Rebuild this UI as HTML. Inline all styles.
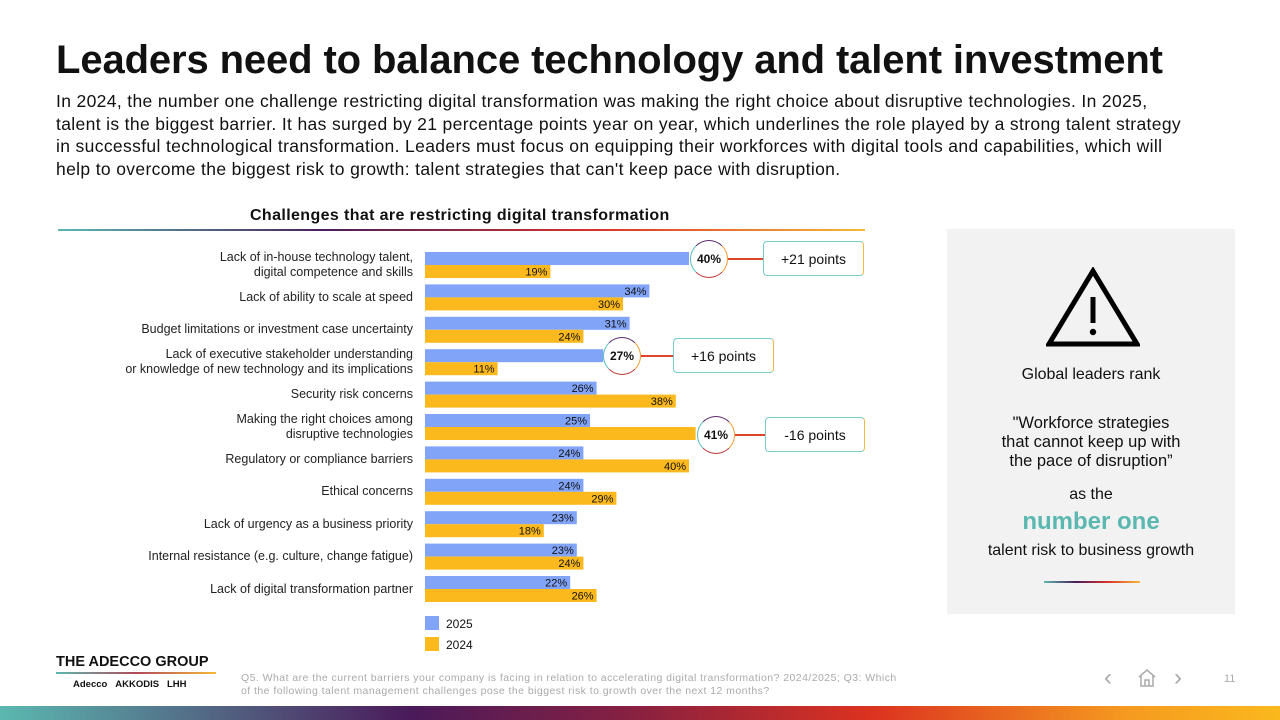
<!DOCTYPE html>
<html><head><meta charset="utf-8">
<style>
body{margin:0;width:1280px;height:720px;overflow:hidden;background:#fff;font-family:"Liberation Sans",sans-serif;position:relative;color:#111}
.abs{position:absolute}
h1{position:absolute;left:56px;top:38px;margin:0;font-size:40px;font-weight:bold;letter-spacing:-0.12px;white-space:nowrap}
.intro{left:56px;top:90px;font-size:17.5px;line-height:22.5px;white-space:nowrap;letter-spacing:0.35px}
.lab{position:absolute;right:867px;text-align:right;font-size:12.5px;line-height:15px;color:#222;white-space:nowrap}
.box{position:absolute;background:#fff;border:1.5px solid #7cc;border-radius:4px;font-size:14px;display:flex;align-items:center;justify-content:center;border-right-color:#f5b942}
.circ{position:absolute;width:36px;height:36px;border-radius:50%;background:#fff;border:1.5px solid #b33;border-left-color:#5bb;border-top-color:#5a2a6e;border-right-color:#f29a2e;font-weight:bold;font-size:12px;display:flex;align-items:center;justify-content:center}
</style></head><body>
<h1>Leaders need to balance technology and talent investment</h1>
<div class="abs intro">In 2024, the number one challenge restricting digital transformation was making the right choice about disruptive technologies. In 2025,<br>talent is the biggest barrier. It has surged by 21 percentage points year on year, which underlines the role played by a strong talent strategy<br>in successful technological transformation. Leaders must focus on equipping their workforces with digital tools and capabilities, which will<br>help to overcome the biggest risk to growth: talent strategies that can't keep pace with disruption.</div>
<div class="abs" style="left:250px;top:207px;font-size:16px;font-weight:bold;letter-spacing:0.38px;white-space:nowrap">Challenges that are restricting digital transformation</div>
<div class="abs" style="left:58px;top:229px;width:807px;height:2px;background:linear-gradient(90deg,#5bb8b0,#4a1e5a,#d8332a,#f6b83a)"></div>
<svg id="chart" class="abs" style="left:0;top:0" width="1280" height="720"></svg>
<div id="labels"></div>
<div class="abs" style="left:425px;top:616px;width:14px;height:14px;background:#82a4f8"></div>
<div class="abs" style="left:446px;top:617px;font-size:12px">2025</div>
<div class="abs" style="left:425px;top:637px;width:14px;height:14px;background:#fbb91d"></div>
<div class="abs" style="left:446px;top:638px;font-size:12px">2024</div>

<div class="circ" style="left:690px;top:240px">40%</div>
<div class="abs" style="left:728px;top:258px;width:35px;height:1.5px;background:#e0442a"></div>
<div class="box" style="left:763px;top:241px;width:99px;height:33px">+21 points</div>
<div class="circ" style="left:603px;top:337px">27%</div>
<div class="abs" style="left:641px;top:355px;width:32px;height:1.5px;background:#e0442a"></div>
<div class="box" style="left:673px;top:338px;width:99px;height:33px">+16 points</div>
<div class="circ" style="left:697px;top:416px">41%</div>
<div class="abs" style="left:735px;top:434px;width:30px;height:1.5px;background:#e0442a"></div>
<div class="box" style="left:765px;top:417px;width:98px;height:33px">-16 points</div>

<div class="abs" style="left:947px;top:229px;width:288px;height:385px;background:#f2f2f2;text-align:center">
<svg style="position:absolute;left:99px;top:38px" width="94" height="80"><path d="M47 4 L91 77 L3 77 Z" fill="none" stroke="#000" stroke-width="5" stroke-linejoin="miter"/><rect x="44.5" y="30" width="5" height="26" fill="#000"/><circle cx="47" cy="65" r="3.2" fill="#000"/></svg>
<div style="position:absolute;top:137px;width:100%;font-size:16px">Global leaders rank</div>
<div style="position:absolute;top:185px;width:100%;font-size:16.5px;line-height:19px">"Workforce strategies<br>that cannot keep up with<br>the pace of disruption”</div>
<div style="position:absolute;top:257px;width:100%;font-size:16px">as the</div>
<div style="position:absolute;top:279px;width:100%;font-size:24px;font-weight:bold;color:#5bb8b0">number one</div>
<div style="position:absolute;top:313px;width:100%;font-size:16px">talent risk to business growth</div>
<div style="position:absolute;top:352px;left:97px;width:96px;height:2px;background:linear-gradient(90deg,#5bb8b0,#4a1e5a,#d8332a,#f6b83a)"></div>
</div>

<div class="abs" style="left:56px;top:654px;font-size:14.5px;font-weight:bold">THE ADECCO GROUP</div>
<div class="abs" style="left:56px;top:672px;width:160px;height:2px;background:linear-gradient(90deg,#5bb8b0,#b04a5a,#f6b83a)"></div>
<div class="abs" style="left:73px;top:679px;font-size:9.5px;font-weight:bold">Adecco &nbsp;&nbsp;AKKODIS &nbsp;&nbsp;LHH</div>
<div class="abs" style="left:241px;top:672px;font-size:10.5px;line-height:13px;color:#aaa;white-space:nowrap;letter-spacing:0.45px">Q5. What are the current barriers your company is facing in relation to accelerating digital transformation? 2024/2025; Q3: Which<br>of the following talent management challenges pose the biggest risk to growth over the next 12 months?</div>
<div class="abs" style="left:1104px;top:664px;font-size:24px;color:#aaa">‹</div>
<svg class="abs" style="left:1137px;top:668px" width="20" height="20"><path d="M2 9 L10 2 L18 9 M4 8 V18 H16 V8 M8 18 V12 H12 V18" fill="none" stroke="#aaa" stroke-width="1.5"/></svg>
<div class="abs" style="left:1174px;top:664px;font-size:24px;color:#aaa">›</div>
<div class="abs" style="left:1224px;top:673px;font-size:11px;color:#aaa">11</div>
<div class="abs" style="left:0;top:706px;width:1280px;height:14px;background:linear-gradient(90deg,#5bb8b0 0%,#4a1a5a 32%,#8a2140 50%,#dc3220 68%,#f59a20 88%,#fbb91d 100%)"></div>

<script>
const categories=["Lack of in-house technology talent,<br>digital competence and skills","Lack of ability to scale at speed","Budget limitations or investment case uncertainty","Lack of executive stakeholder understanding<br>or knowledge of new technology and its implications","Security risk concerns","Making the right choices among<br>disruptive technologies","Regulatory or compliance barriers","Ethical concerns","Lack of urgency as a business priority","Internal resistance (e.g. culture, change fatigue)","Lack of digital transformation partner"];
const values2025=[40,34,31,27,26,25,24,24,23,23,22];
const values2024=[19,30,24,11,38,41,40,29,18,24,26];
const calloutIdx2025=[0,3];
const calloutIdx2024=[5];
const x0=425, pxPer=6.6, rowTop=252, rowStep=32.4, barH=13;
const xs=v=>v*pxPer;
const svg=document.getElementById('chart');
const NS='http://www.w3.org/2000/svg';
const labels=document.getElementById('labels');
function bar(v,y,color,name,hideLabel){
  const r=document.createElementNS(NS,'rect');
  r.setAttribute('x',x0);r.setAttribute('y',y);r.setAttribute('width',xs(v));r.setAttribute('height',barH);r.setAttribute('fill',color);
  
  
  svg.appendChild(r);
  if(!hideLabel){
    const t=document.createElementNS(NS,'text');
    t.setAttribute('x',x0+xs(v)-3);t.setAttribute('y',y+10.5);t.setAttribute('text-anchor','end');
    t.setAttribute('font-size','11');t.setAttribute('font-family','Liberation Sans, sans-serif');t.setAttribute('fill','#111');
    t.textContent=v+'%';
    
    
    svg.appendChild(t);
  }
}
categories.forEach((c,i)=>{
  const y=rowTop+i*rowStep;
  bar(values2025[i],y,'#82a4f8','bar-2025-'+i,calloutIdx2025.includes(i));
  bar(values2024[i],y+barH,'#fbb91d','bar-2024-'+i,calloutIdx2024.includes(i));
  const d=document.createElement('div');
  d.className='lab';
  d.innerHTML=c;
  const two=c.includes('<br>');
  d.style.top=(y+barH-(two?15:7.5))+'px';
  
  
  labels.appendChild(d);
});
</script>
</body></html>
